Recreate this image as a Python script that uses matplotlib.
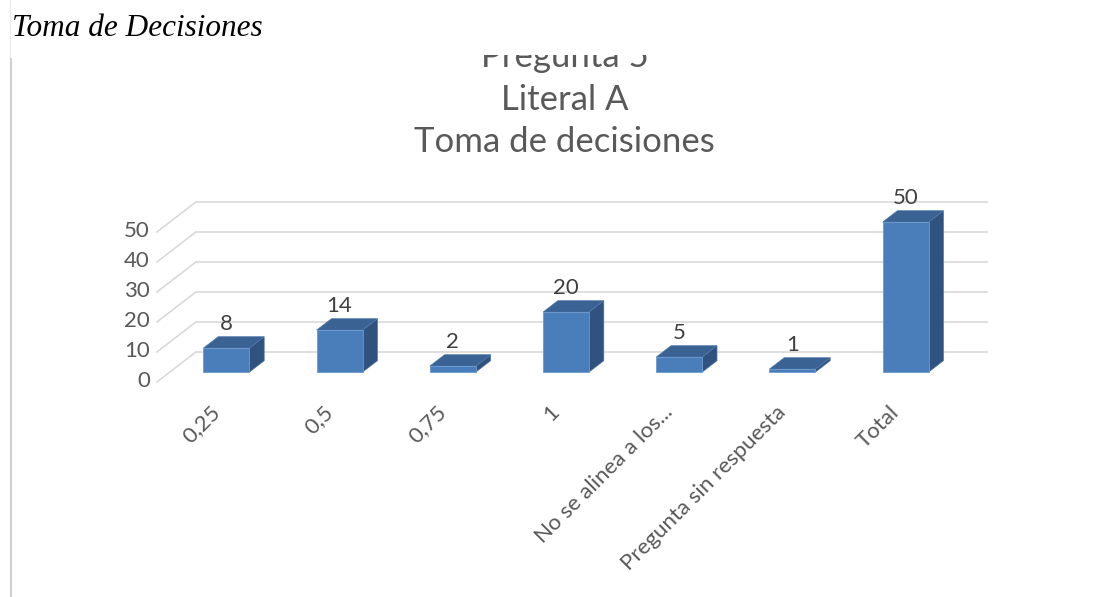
import matplotlib
matplotlib.use("Agg")
import matplotlib.pyplot as plt
from matplotlib.patches import Polygon, Rectangle

# data
categories = ["0,25", "0,5", "0,75", "1", "No se alinea a los...",
              "Pregunta sin respuesta", "Total"]
values = [8, 14, 2, 20, 5, 1, 50]
yticks = [0, 10, 20, 30, 40, 50]
title_lines = ["Pregunta 5", "Literal A", "Toma de decisiones"]
heading = "Toma de Decisiones"

W, H = 1095, 597
fig = plt.figure(figsize=(W / 100, H / 100), dpi=100)

# pixel mapping of the front plane (category / value -> image pixels)
X0, SX = 213.5, 113.2
Y0, SY = 382.0, 3.0
L, R, T, B = 60, 1040, 150, 470


def frac(l, r, t, b):
    return [l / W, 1 - b / H, (r - l) / W, (b - t) / H]


# chart frame: title clipped at top like the pasted image
frame = fig.add_axes(frac(11, W, 55, H))
frame.set_axis_off()
frame.patch.set_visible(False)
frame.set_xlim(0, W)
frame.set_ylim(H, 55)
for k, line in enumerate(title_lines):
    txt = frame.text(559, 67 + 42.5 * k, line, ha="center", va="baseline",
                     fontsize=25, color="#595959", family="Lato")
    txt.set_clip_box(frame.bbox)
    txt.set_clip_on(True)

ax = fig.add_axes(frac(L, R, T, B))
ax.set_axis_off()
ax.patch.set_visible(False)
ax.set_xlim((L - X0) / SX, (R - X0) / SX)
ax.set_ylim((Y0 - B) / SY, (Y0 - T) / SY)

DX = 39 / SX      # full floor depth, category units
DY = 30 / SY      # full floor depth, value units
d0, d1 = 0.33, 0.71
hw = 0.203
xmin, xmax = -0.5, len(categories) - 0.5
grid_c = "#D9D9D9"

for t in yticks:
    ax.plot([xmin + DX, xmax + DX], [t + DY, t + DY], color=grid_c, lw=1.2,
            solid_capstyle="butt", zorder=1)
    ax.plot([xmin, xmin + DX], [t, t + DY], color=grid_c, lw=1.2, zorder=1)
    ax.annotate(str(t), (xmin, t), xytext=(-5, 1), textcoords="offset points",
                ha="right", va="center", fontsize=16, color="#595959",
                family="Lato")

front_c, top_c, side_c = "#4A7EBB", "#3A6293", "#30527E"
for i, v in enumerate(values):
    fx0 = i - hw + d0 * DX
    fx1 = i + hw + d0 * DX
    bx0 = i - hw + d1 * DX
    bx1 = i + hw + d1 * DX
    yf, yb = d0 * DY, d1 * DY
    side = Polygon([(fx1, yf), (bx1, yb), (bx1, v + yb), (fx1, v + yf)],
                   closed=True, fc=side_c, ec="#4A6D9A", lw=0.5, zorder=3)
    top = Polygon([(fx0, v + yf), (fx1, v + yf), (bx1, v + yb), (bx0, v + yb)],
                  closed=True, fc=top_c, ec="#5079AD", lw=0.5, zorder=3)
    front = Rectangle((fx0, yf), fx1 - fx0, v, fc=front_c, ec="#6A98D0",
                      lw=0.6, zorder=4)
    ax.add_patch(side)
    ax.add_patch(top)
    ax.add_patch(front)
    ax.annotate(str(v), (i + d0 * DX, v + yb), xytext=(0, 9),
                textcoords="offset points", ha="center", va="center",
                fontsize=16, color="#404040", family="Lato", zorder=5)
    ax.text(i + 0.03, -9.0, categories[i], rotation=45, rotation_mode="anchor",
            ha="right", va="center", fontsize=16, color="#595959",
            family="Lato")

# heading above the chart and left border of the pasted picture
fig.text(12 / W, 1 - 28 / H, heading, ha="left", va="center", fontsize=22.5,
         style="italic", family="Liberation Serif", color="black", zorder=10)
fig.add_artist(plt.Line2D([10 / W, 10 / W], [1 - 59 / H, 1], color="#EBEBEB",
                          lw=0.8))
fig.add_artist(plt.Line2D([10.5 / W, 10.5 / W], [0, 1 - 59 / H],
                          color="#D0D0D0", lw=1.5))

fig.savefig("out.png", dpi=100, facecolor="white")
